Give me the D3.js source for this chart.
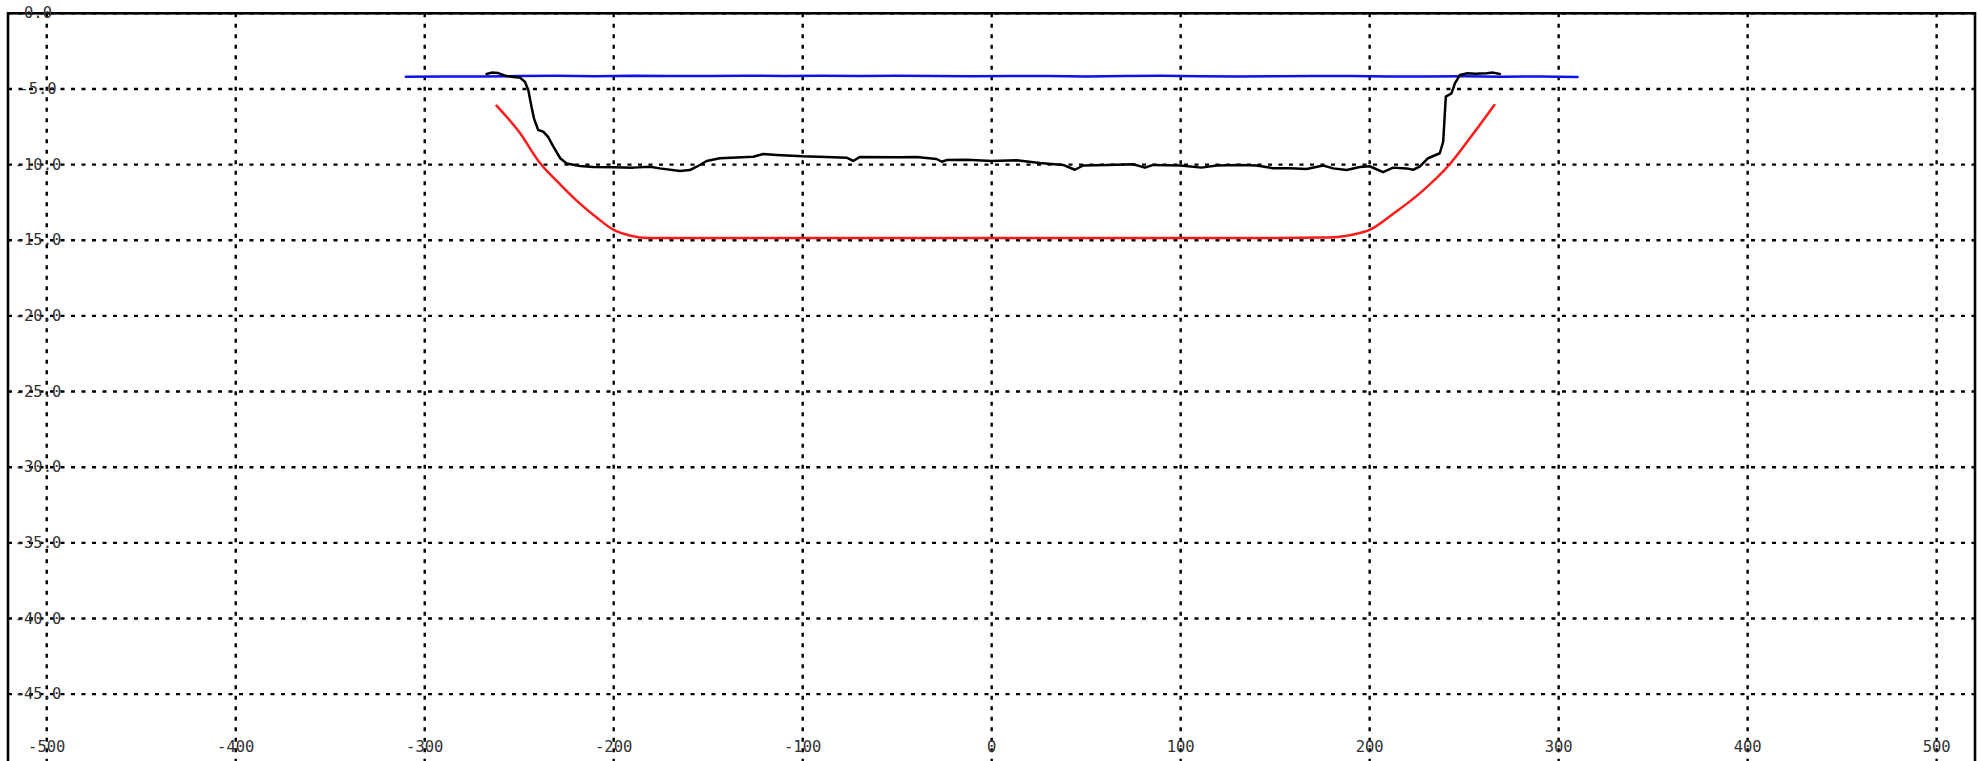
<!DOCTYPE html>
<html>
<head>
<meta charset="utf-8">
<script src="https://cdn.jsdelivr.net/npm/d3@7"></script>
<style>
  html, body { margin: 0; padding: 0; background: #fff; overflow: hidden; }
  svg { display: block; }
</style>
</head>
<body>
<svg id="chart" width="1981" height="761"></svg>
<script>
// ---- data ----
const xTicks = [-500, -400, -300, -200, -100, 0, 100, 200, 300, 400, 500];
const yTicks = [0, -5, -10, -15, -20, -25, -30, -35, -40, -45, -50];

const blueX = [-310, -290, -270, -250, -230, -210, -190, -170, -150, -130, -110, -90, -70, -50, -30, -10,
               10, 30, 50, 70, 90, 110, 130, 150, 170, 190, 210, 230, 250, 270, 290, 310];
const blueY = [-4.20, -4.18, -4.17, -4.15, -4.13, -4.16, -4.12, -4.14, -4.15, -4.12, -4.14, -4.13, -4.15, -4.13, -4.14, -4.16,
               -4.14, -4.15, -4.17, -4.15, -4.13, -4.16, -4.18, -4.16, -4.15, -4.14, -4.17, -4.18, -4.16, -4.19, -4.18, -4.21];

const blackX = [-267.3, -264.6, -261.1, -256.7, -252.0, -249.6, -247.0, -245.2, -243.5, -242.2, -240.0, -237.3, -234.6, -232.0,
                -228.3, -224.9, -217.9, -210.8, -199.7, -189.7, -180.8, -175.6, -165.0, -159.7, -156.1, -150.8, -143.8,
                -126.2, -120.9, -113.8, -100.0, -87.4, -76.8, -73.3, -69.7, -48.6, -39.7, -29.2, -26.5, -23.9, -13.3,
                0.0, 13.2, 25.5, 37.8, 44.0, 48.4, 60.8, 74.9, 81.1, 85.4, 100.0, 111.0, 119.0, 131.3, 140.2, 148.9,
                157.8, 166.6, 175.4, 180.7, 187.8, 194.8, 200.0, 207.1, 212.4, 219.5, 223.0, 226.5, 230.9, 237.1,
                238.9, 239.6, 240.3, 243.3, 245.1, 247.7, 251.3, 256.0, 261.9, 265.3, 268.9];
const blackY = [-4.01, -3.92, -3.95, -4.15, -4.22, -4.25, -4.52, -5.07, -6.17, -6.94, -7.71, -7.82, -8.19, -8.80,
                -9.58, -9.93, -10.09, -10.16, -10.18, -10.20, -10.14, -10.25, -10.42, -10.36, -10.14, -9.76, -9.58,
                -9.48, -9.30, -9.36, -9.45, -9.49, -9.54, -9.76, -9.49, -9.52, -9.49, -9.63, -9.81, -9.70, -9.68,
                -9.76, -9.72, -9.89, -10.02, -10.34, -10.06, -10.02, -9.98, -10.20, -10.02, -10.06, -10.20, -10.06, -10.02, -10.06, -10.24,
                -10.24, -10.29, -10.06, -10.25, -10.36, -10.16, -10.11, -10.50, -10.20, -10.25, -10.34, -10.14, -9.58, -9.25,
                -8.49, -7.00, -5.51, -5.29, -4.63, -4.08, -3.97, -4.00, -3.97, -3.92, -4.01];

const redX = [-262, -250, -239, -228, -218, -209, -200, -191, -182, -150, -100, -50, 0, 50, 100, 150, 175,
              183, 192, 200, 213, 226.5, 242, 253, 266];
const redY = [-6.10, -7.85, -9.90, -11.35, -12.56, -13.50, -14.32, -14.70, -14.85, -14.85, -14.85, -14.85, -14.85, -14.85, -14.85, -14.85, -14.82,
              -14.78, -14.60, -14.32, -13.20, -11.90, -10.03, -8.26, -6.06];

// ---- layout ----
const W = 1981, H = 761;
const plot = { left: 8, right: 1975, top: 13.3, bottom: 769.8 };
const x = d3.scaleLinear().domain([-520.5, 520.3]).range([plot.left, plot.right]);
const y = d3.scaleLinear().domain([0, -50]).range([plot.top, plot.bottom]);

const svg = d3.select("#chart");
svg.append("rect").attr("width", W).attr("height", H).attr("fill", "#fff");

const FONT = "'DejaVu Sans Mono', monospace";

// grid
const grid = svg.append("g");
grid.selectAll("line.v").data(xTicks).join("line")
  .attr("x1", d => x(d)).attr("x2", d => x(d))
  .attr("y1", plot.top).attr("y2", plot.bottom)
  .attr("stroke", "#000").attr("stroke-width", 2.4).attr("stroke-dasharray", "4,6.5");
grid.selectAll("line.h").data(yTicks).join("line")
  .attr("x1", plot.left).attr("x2", plot.right)
  .attr("y1", d => y(d)).attr("y2", d => y(d))
  .attr("stroke", "#000").attr("stroke-width", 2.4).attr("stroke-dasharray", "4,6.5");

// frame
svg.append("rect")
  .attr("x", plot.left).attr("y", plot.top)
  .attr("width", plot.right - plot.left).attr("height", plot.bottom - plot.top)
  .attr("fill", "none").attr("stroke", "#000").attr("stroke-width", 2.6);

// series
function series(xs, ys, color, curve) {
  const line = d3.line().x(d => x(d[0])).y(d => y(d[1])).curve(curve);
  svg.append("path")
    .datum(xs.map((v, i) => [v, ys[i]]))
    .attr("d", line)
    .attr("fill", "none").attr("stroke", color)
    .attr("stroke-width", 2.5).attr("stroke-linejoin", "round").attr("stroke-linecap", "round");
}
series(blueX, blueY, "#1010ee", d3.curveLinear);
series(redX, redY, "#ff1a1a", d3.curveMonotoneX);
series(blackX, blackY, "#000", d3.curveLinear);

// labels
svg.append("g").selectAll("text").data(yTicks.filter(d => d > -50)).join("text")
  .attr("x", 38).attr("y", d => y(d))
  .attr("text-anchor", "middle").attr("dominant-baseline", "central")
  .attr("font-family", FONT).attr("font-size", 15.5).attr("fill", "#333")
  .text(d => d.toFixed(1));

svg.append("g").selectAll("text").data(xTicks).join("text")
  .attr("x", d => x(d)).attr("y", 752)
  .attr("text-anchor", "middle")
  .attr("font-family", FONT).attr("font-size", 15.5).attr("fill", "#333")
  .text(d => String(d));
</script>
</body>
</html>
